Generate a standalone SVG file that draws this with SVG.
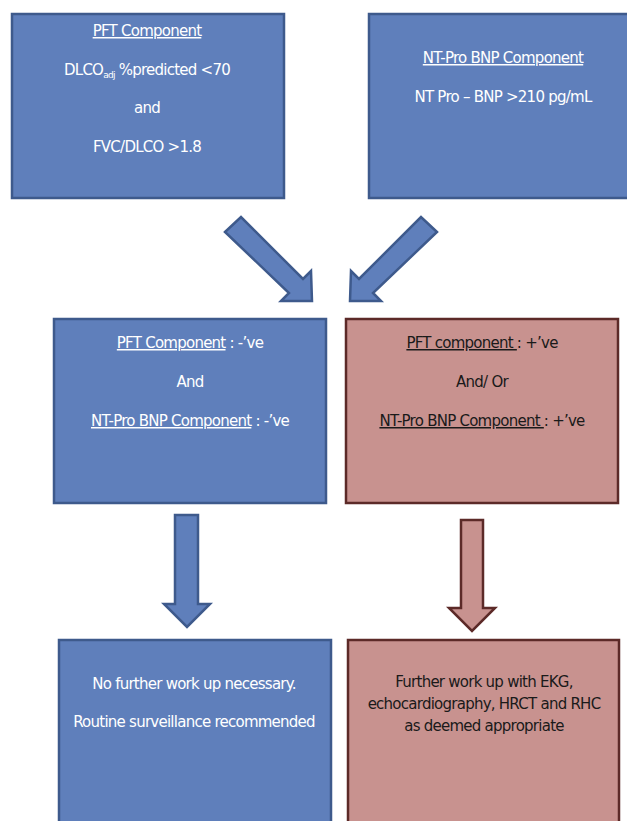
<svg xmlns="http://www.w3.org/2000/svg" width="627" height="821" viewBox="0 0 627 821">
<style>
.b{fill:#5F7FBB;stroke:#3E5A8C;stroke-width:2.5}
.r{fill:#C8928F;stroke:#5C2A28;stroke-width:2.5}
text{font-family:"DejaVu Sans","Liberation Sans",sans-serif;font-size:15px;text-anchor:middle;letter-spacing:-0.75px}
.w{fill:#FFFFFF}
.k{fill:#1A1A1A}
.u{text-decoration:underline}
</style>
<rect width="627" height="821" fill="#FFFFFF"/>
<g id="pft">
<rect class="b" x="12" y="14" width="272" height="184"/>
<text class="w" x="147" y="36"><tspan class="u">PFT Component</tspan></text>
<text class="w" x="147" y="75">DLCO<tspan font-size="9" dy="3">adj</tspan><tspan dy="-3"> %predicted &lt;70</tspan></text>
<text class="w" x="147" y="113">and</text>
<text class="w" x="147" y="152">FVC/DLCO &gt;1.8</text>
</g>
<g id="bnp">
<rect class="b" x="369" y="14" width="262" height="184"/>
<text class="w" x="503" y="63"><tspan class="u">NT-Pro BNP Component</tspan></text>
<text class="w" x="503" y="102">NT Pro – BNP &gt;210 pg/mL</text>
</g>
<g id="neg">
<rect class="b" x="54" y="319" width="272" height="184"/>
<text class="w" x="190" y="348"><tspan class="u">PFT Component</tspan> : -’ve</text>
<text class="w" x="190" y="387">And</text>
<text class="w" x="190" y="426"><tspan class="u">NT-Pro BNP Component</tspan> : -’ve</text>
</g>
<g id="pos">
<rect class="r" x="346" y="319" width="272" height="184"/>
<text class="k" x="482" y="348"><tspan class="u">PFT component </tspan>: +’ve</text>
<text class="k" x="482" y="387">And/ Or</text>
<text class="k" x="482" y="426"><tspan class="u">NT-Pro BNP Component </tspan>: +’ve</text>
</g>
<g id="none">
<rect class="b" x="59" y="640" width="272" height="200"/>
<text class="w" x="194" y="689">No further work up necessary.</text>
<text class="w" x="194" y="727">Routine surveillance recommended</text>
</g>
<g id="further">
<rect class="r" x="348" y="640" width="271" height="200"/>
<text class="k" x="484" y="687">Further work up with EKG,</text>
<text class="k" x="484" y="709">echocardiography, HRCT and RHC</text>
<text class="k" x="484" y="731">as deemed appropriate</text>
</g>
<g id="connectors">
<polygon class="b" points="225,232 241,217 303,279 311,271 312,301 281,301 289,293"/>
<polygon class="b" points="437,232 421,217 359,279 351,271 350,301 381,301 373,293"/>
<polygon class="b" points="175,515 198,515 198,604 210,604 187,627 164,604 175,604"/>
<polygon class="r" points="461,520 483,520 483,608 495,608 472,631 449,608 461,608"/>
</g>
</svg>
